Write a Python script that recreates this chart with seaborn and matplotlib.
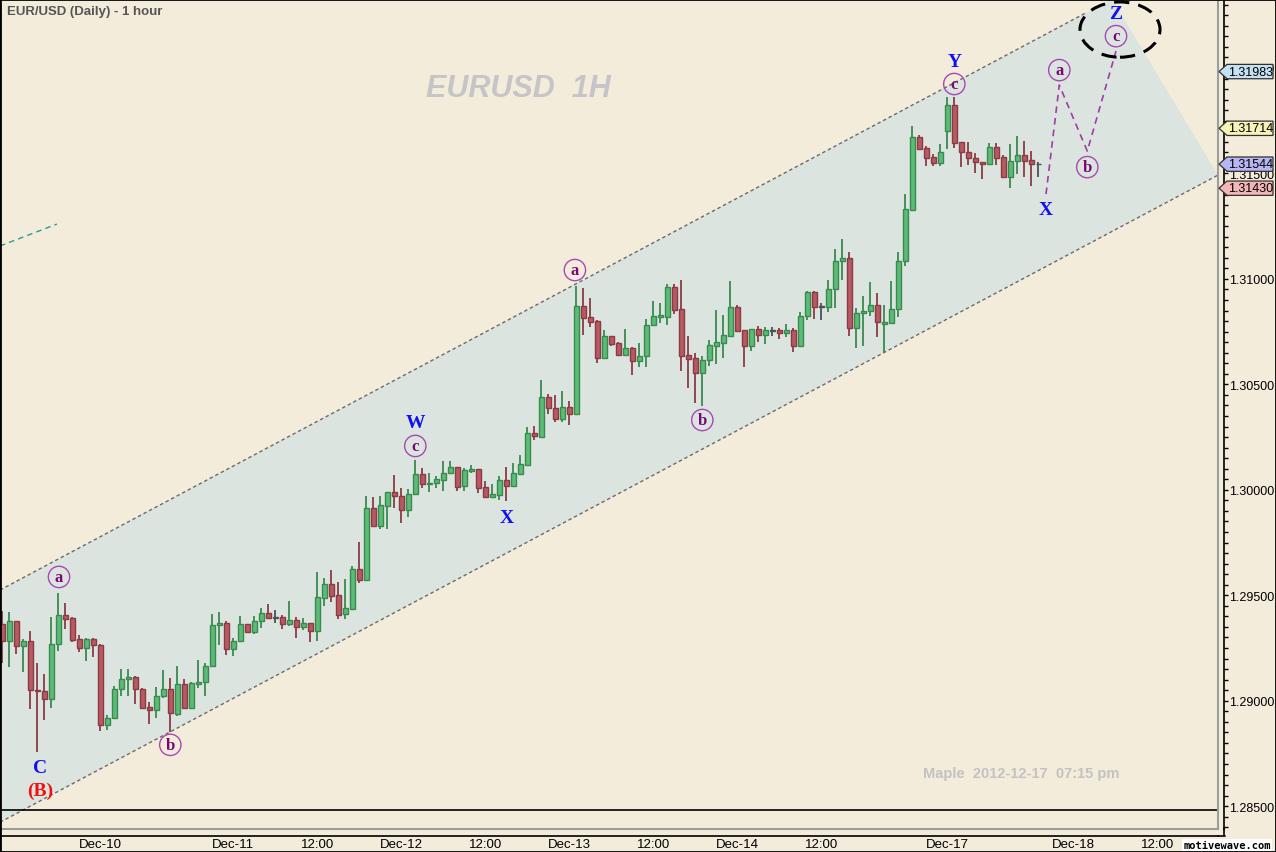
import numpy as np
import pandas as pd
import matplotlib
matplotlib.use("Agg")
import matplotlib.pyplot as plt
import seaborn as sns
from matplotlib.patches import Polygon, Ellipse, Rectangle
from matplotlib.lines import Line2D
from matplotlib.transforms import blended_transform_factory
from matplotlib.ticker import MultipleLocator, FixedLocator, FixedFormatter, FormatStrFormatter

# ---------------- data (EUR/USD 1-hour bars) ----------------
opens = [1.29364, 1.29282, 1.29377, 1.29258, 1.29284, 1.29050, 1.29045, 1.29007, 1.29268, 1.29407,
         1.29393, 1.29292, 1.29252, 1.29292, 1.29265, 1.28887, 1.28917, 1.29055, 1.29103, 1.29111,
         1.29056, 1.28971, 1.28958, 1.29021, 1.29056, 1.28939, 1.29078, 1.28967, 1.29080, 1.29088,
         1.29165, 1.29358, 1.29369, 1.29247, 1.29282, 1.29364, 1.29328, 1.29377, 1.29416, 1.29393,
         1.29396, 1.29363, 1.29382, 1.29351, 1.29367, 1.29332, 1.29489, 1.29552, 1.29502, 1.29410,
         1.29437, 1.29623, 1.29574, 1.29913, 1.29830, 1.29925, 1.29988, 1.29969, 1.29906, 1.29979,
         1.30074, 1.30026, 1.30031, 1.30048, 1.30078, 1.30108, 1.30017, 1.30091, 1.30099, 1.30013,
         1.29965, 1.29977, 1.30047, 1.30020, 1.30075, 1.30119, 1.30269, 1.30252, 1.30440, 1.30388,
         1.30334, 1.30393, 1.30361, 1.30871, 1.30819, 1.30800, 1.30626, 1.30728, 1.30696, 1.30641,
         1.30672, 1.30609, 1.30634, 1.30781, 1.30821, 1.30821, 1.30960, 1.30856, 1.30638, 1.30625,
         1.30555, 1.30614, 1.30683, 1.30697, 1.30731, 1.30867, 1.30758, 1.30683, 1.30762, 1.30735,
         1.30753, 1.30756, 1.30742, 1.30756, 1.30680, 1.30823, 1.30938, 1.30868, 1.30868, 1.30951,
         1.31083, 1.31098, 1.30766, 1.30837, 1.30846, 1.30875, 1.30788, 1.30791, 1.30856, 1.31083,
         1.31328, 1.31672, 1.31620, 1.31578, 1.31548, 1.31700, 1.31824, 1.31647, 1.31601, 1.31573,
         1.31553, 1.31543, 1.31624, 1.31578, 1.31484, 1.31557, 1.31586, 1.31563, 1.31544]
highs = [1.29424, 1.29420, 1.29380, 1.29292, 1.29331, 1.29179, 1.29126, 1.29397, 1.29511, 1.29464,
         1.29395, 1.29312, 1.29296, 1.29299, 1.29268, 1.28933, 1.29069, 1.29151, 1.29151, 1.29119,
         1.29061, 1.28996, 1.29067, 1.29146, 1.29108, 1.29164, 1.29103, 1.29088, 1.29193, 1.29181,
         1.29412, 1.29421, 1.29378, 1.29298, 1.29402, 1.29366, 1.29402, 1.29439, 1.29459, 1.29430,
         1.29407, 1.29473, 1.29397, 1.29394, 1.29369, 1.29609, 1.29582, 1.29619, 1.29562, 1.29577,
         1.29639, 1.29753, 1.29969, 1.29965, 1.29969, 1.29990, 1.30070, 1.30007, 1.30003, 1.30140,
         1.30104, 1.30078, 1.30064, 1.30135, 1.30137, 1.30110, 1.30104, 1.30118, 1.30101, 1.30042,
         1.30026, 1.30067, 1.30107, 1.30127, 1.30165, 1.30296, 1.30304, 1.30521, 1.30454, 1.30450,
         1.30469, 1.30421, 1.30968, 1.30957, 1.30909, 1.30806, 1.30759, 1.30730, 1.30699, 1.30761,
         1.30675, 1.30696, 1.30811, 1.30897, 1.30886, 1.30976, 1.30976, 1.30995, 1.30731, 1.30647,
         1.30633, 1.30710, 1.30852, 1.30829, 1.30990, 1.30876, 1.30760, 1.30764, 1.30777, 1.30772,
         1.30770, 1.30768, 1.30786, 1.30766, 1.30842, 1.30944, 1.30944, 1.30886, 1.30995, 1.31142,
         1.31189, 1.31126, 1.30862, 1.30919, 1.30985, 1.30933, 1.30876, 1.30990, 1.31127, 1.31402,
         1.31723, 1.31682, 1.31628, 1.31592, 1.31639, 1.31862, 1.31862, 1.31649, 1.31649, 1.31595,
         1.31555, 1.31644, 1.31644, 1.31586, 1.31639, 1.31677, 1.31654, 1.31606, 1.31553]
lows = [1.29178, 1.29162, 1.29223, 1.29138, 1.28963, 1.28756, 1.28910, 1.28967, 1.29238, 1.29340,
        1.29279, 1.29233, 1.29190, 1.29209, 1.28858, 1.28863, 1.28915, 1.29024, 1.29024, 1.28986,
        1.28965, 1.28892, 1.28917, 1.29012, 1.28851, 1.28929, 1.28965, 1.28963, 1.29059, 1.29024,
        1.29163, 1.29265, 1.29219, 1.29214, 1.29282, 1.29323, 1.29318, 1.29347, 1.29392, 1.29370,
        1.29342, 1.29356, 1.29299, 1.29334, 1.29280, 1.29285, 1.29451, 1.29470, 1.29388, 1.29388,
        1.29434, 1.29560, 1.29572, 1.29828, 1.29816, 1.29813, 1.29915, 1.29841, 1.29870, 1.29977,
        1.30007, 1.29991, 1.30010, 1.29996, 1.30076, 1.29996, 1.29996, 1.30081, 1.29986, 1.29963,
        1.29963, 1.29953, 1.29946, 1.30018, 1.30073, 1.30114, 1.30238, 1.30246, 1.30360, 1.30320,
        1.30320, 1.30309, 1.30358, 1.30734, 1.30770, 1.30603, 1.30624, 1.30680, 1.30639, 1.30639,
        1.30546, 1.30584, 1.30584, 1.30779, 1.30789, 1.30783, 1.30835, 1.30562, 1.30484, 1.30412,
        1.30399, 1.30586, 1.30597, 1.30625, 1.30729, 1.30750, 1.30584, 1.30660, 1.30702, 1.30693,
        1.30731, 1.30716, 1.30726, 1.30655, 1.30678, 1.30806, 1.30810, 1.30806, 1.30842, 1.30863,
        1.30996, 1.30731, 1.30671, 1.30683, 1.30823, 1.30726, 1.30652, 1.30788, 1.30821, 1.31062,
        1.31323, 1.31611, 1.31536, 1.31536, 1.31534, 1.31616, 1.31620, 1.31532, 1.31541, 1.31503,
        1.31472, 1.31541, 1.31541, 1.31481, 1.31429, 1.31497, 1.31484, 1.31442, 1.31484]
closes = [1.29282, 1.29377, 1.29258, 1.29284, 1.29050, 1.29045, 1.29007, 1.29269, 1.29407, 1.29389,
          1.29290, 1.29252, 1.29292, 1.29265, 1.28887, 1.28917, 1.29056, 1.29103, 1.29111, 1.29055,
          1.28967, 1.28958, 1.29021, 1.29056, 1.28941, 1.29078, 1.28967, 1.29083, 1.29088, 1.29165,
          1.29359, 1.29369, 1.29247, 1.29284, 1.29364, 1.29328, 1.29378, 1.29416, 1.29394, 1.29393,
          1.29363, 1.29382, 1.29351, 1.29367, 1.29332, 1.29491, 1.29552, 1.29498, 1.29408, 1.29439,
          1.29623, 1.29574, 1.29913, 1.29830, 1.29927, 1.29988, 1.29969, 1.29906, 1.29979, 1.30074,
          1.30028, 1.30032, 1.30050, 1.30080, 1.30108, 1.30015, 1.30094, 1.30099, 1.30010, 1.29965,
          1.29980, 1.30047, 1.30020, 1.30080, 1.30122, 1.30269, 1.30254, 1.30440, 1.30387, 1.30334,
          1.30393, 1.30361, 1.30871, 1.30816, 1.30797, 1.30626, 1.30728, 1.30693, 1.30641, 1.30672,
          1.30609, 1.30634, 1.30781, 1.30825, 1.30829, 1.30960, 1.30854, 1.30636, 1.30622, 1.30555,
          1.30615, 1.30685, 1.30699, 1.30733, 1.30867, 1.30754, 1.30683, 1.30762, 1.30735, 1.30756,
          1.30753, 1.30742, 1.30756, 1.30680, 1.30823, 1.30938, 1.30868, 1.30868, 1.30951, 1.31083,
          1.31098, 1.30766, 1.30837, 1.30846, 1.30875, 1.30794, 1.30794, 1.30857, 1.31085, 1.31330,
          1.31672, 1.31616, 1.31574, 1.31548, 1.31601, 1.31824, 1.31645, 1.31600, 1.31572, 1.31553,
          1.31543, 1.31624, 1.31574, 1.31484, 1.31557, 1.31586, 1.31560, 1.31543, 1.31544]

# x axis (bar index) tick positions and labels
time_tick_pos = [14, 33, 45, 57, 69, 81, 93, 105, 117, 135, 153, 165]
time_tick_labels = ["Dec-10", "Dec-11", "12:00", "Dec-12", "12:00", "Dec-13", "12:00",
                    "Dec-14", "12:00", "Dec-17", "Dec-18", "12:00"]

# channel (bar index, price)
chan_upper_x = [-0.33, 154.67]
chan_upper_y = [1.29525, 1.32259]
chan_lower_x = [-0.33, 173.67]
chan_lower_y = [1.28424, 1.31492]
chan_fill_x = [-0.33, 158.53, 173.67, -0.33]
chan_fill_y = [1.29525, 1.32327, 1.31492, 1.28424]

# teal trend segment top-left
teal_x = [-0.33, 7.8]
teal_y = [1.31156, 1.31260]

# projected wave path X -> a -> b -> c
proj_x = [149.1, 151.0, 155.0, 159.1]
proj_y = [1.31402, 1.31919, 1.31606, 1.32080]

# wave labels: (text, bar index, price, kind)
wave_labels = [
    ("C", 5.4, 1.28682, "blue"), ("(B)", 5.4, 1.28573, "red"),
    ("a", 8.1, 1.29587, "circ"), ("b", 24.0, 1.28791, "circ"),
    ("W", 59.0, 1.30317, "blue"), ("c", 59.0, 1.30208, "circ"),
    ("X", 72.0, 1.29871, "blue"), ("a", 81.8, 1.31042, "circ"),
    ("b", 100.0, 1.30331, "circ"),
    ("Y", 136.1, 1.32033, "blue"), ("c", 136.0, 1.31924, "circ"),
    ("X", 149.1, 1.31331, "blue"), ("a", 151.0, 1.31990, "circ"),
    ("b", 155.0, 1.31530, "circ"), ("Z", 159.1, 1.32256, "blue"),
    ("c", 159.1, 1.32151, "circ"),
]

# price tags on the right axis
tag_prices = [1.31983, 1.31714, 1.31544, 1.31430]
tag_colors = ["#C4E2F2", "#F6F3B6", "#B6B6F2", "#F2B6BA"]

base_line = 1.28481

# ---------------- style ----------------
BEIGE = "#F4ECDB"
CHAN = "#DCE4DF"
sns.set_style("white", rc={"axes.facecolor": BEIGE, "figure.facecolor": BEIGE})
plt.rcParams["font.family"] = ["Liberation Sans", "DejaVu Sans"]

W, H = 1276, 853
fig = plt.figure(figsize=(12.76, 8.53), dpi=100)
fig.patch.set_facecolor(BEIGE)
ax = fig.add_axes([0, 23 / H, 1218 / W, 830 / H])
ax.set_facecolor(BEIGE)

df = pd.DataFrame({"o": opens, "h": highs, "l": lows, "c": closes})
df["i"] = np.arange(len(df))

# channel
ax.add_patch(Polygon(list(zip(chan_fill_x, chan_fill_y)), closed=True, fc=CHAN, ec="none", zorder=0.5))
ax.plot(chan_upper_x, chan_upper_y, color="#6A6A6A", lw=1.0, dashes=(2.5, 2), zorder=1)
ax.plot(chan_lower_x, chan_lower_y, color="#6A6A6A", lw=1.0, dashes=(2.5, 2), zorder=1)
ax.plot(teal_x, teal_y, color="#2A9A98", lw=1.0, dashes=(4, 3), zorder=1)
ax.axhline(base_line, color="black", lw=1.2, zorder=1)

# candles
up_fill, up_edge = "#5CBB76", "#3A8A50"
dn_fill, dn_edge = "#B85A62", "#8A3B43"
gray = "#4A525A"
fills, edges = [], []
for o, c in zip(df.o, df.c):
    if c > o:
        fills.append(up_fill); edges.append(up_edge)
    elif c < o:
        fills.append(dn_fill); edges.append(dn_edge)
    else:
        fills.append(gray); edges.append(gray)
ax.vlines(df.i, df.l, df.h, colors=edges, lw=1.3, zorder=2)
body_bottom = np.minimum(df.o, df.c)
body_h = np.maximum(np.abs(df.c - df.o), 0.00003)
ax.bar(df.i, body_h, bottom=body_bottom, width=0.7, color=fills, edgecolor=edges, lw=1.0, zorder=3)

# projected path (seaborn)
sns.lineplot(x=proj_x, y=proj_y, ax=ax, color="#A03CA8", lw=1.2, sort=False, estimator=None, zorder=4)
ax.lines[-1].set_dashes((4, 3))

# ellipse
ax.add_patch(Ellipse((159.67, 1.32182), 11.43, 0.00262, fill=False, ec="black", lw=2.2,
                     linestyle=(0, (5, 3)), zorder=5))

# wave labels
for txt, x, y, kind in wave_labels:
    if kind == "circ":
        ax.text(x, y, txt, ha="center", va="center", fontsize=12, fontweight="bold",
                family="Liberation Serif", color="#780A78", zorder=6,
                bbox=dict(boxstyle="circle,pad=0.16", fc="none", ec="#A848B4", lw=1.0))
    else:
        ax.text(x, y, txt, ha="center", va="center", fontsize=14, fontweight="bold",
                family="Liberation Serif", color="#1010F0" if kind == "blue" else "#F01010", zorder=6)

# limits
ax.set_xlim(-0.3286, 173.671)
ax.set_ylim(1.28392, 1.32327)

# axes: spines and ticks
for s in ["left", "top"]:
    ax.spines[s].set_visible(False)
ax.spines["right"].set_position(("outward", 4.3))
ax.spines["bottom"].set_position(("outward", 4.8))
for s in ["right", "bottom"]:
    ax.spines[s].set_color("black")
    ax.spines[s].set_linewidth(1.2)
ax.yaxis.tick_right()
ax.yaxis.set_major_locator(MultipleLocator(0.005))
ax.yaxis.set_minor_locator(MultipleLocator(0.0005))
ax.yaxis.set_major_formatter(FormatStrFormatter("%.5f"))
ax.tick_params(axis="y", which="major", direction="out", length=3.0, width=1, pad=1.0,
               labelsize=9, colors="black")
ax.tick_params(axis="y", which="minor", direction="out", length=2.6, width=1, colors="black")
ax.xaxis.set_major_locator(FixedLocator(time_tick_pos))
ax.xaxis.set_major_formatter(FixedFormatter(time_tick_labels))
ax.tick_params(axis="x", which="major", direction="in", length=4.8, width=1, pad=2,
               labelsize=9.5, colors="black")
ax.grid(False)

# gray plot border
ax.add_patch(Rectangle((0, 0), 1, 1, transform=ax.transAxes, fill=False, ec="#9C9C9C",
                       lw=1.5, clip_on=False, zorder=7))
# corner completion of the black axis lines
fig.add_artist(Line2D([1218 / W, 1225 / W], [1 - 836.7 / H, 1 - 836.7 / H], color="black", lw=1.2))
fig.add_artist(Line2D([1224 / W, 1224 / W], [1 - 837 / H, 1 - 829 / H], color="black", lw=1.2))

# price tags
tr = blended_transform_factory(ax.transAxes, ax.transData)
hh = 0.00034
for p, col in zip(tag_prices, tag_colors):
    x0, x1, x2 = 1219 / 1218, 1227 / 1218, 1273 / 1218
    poly = Polygon([(x0, p), (x1, p + hh), (x2, p + hh), (x2, p - hh), (x1, p - hh)], closed=True,
                   transform=tr, fc=col, ec="#303030", lw=0.9, clip_on=False, zorder=20)
    ax.add_patch(poly)
    ax.text(1228.5 / 1218, p, f"{p:.5f}", transform=tr, ha="left", va="center", fontsize=9,
            color="black", zorder=21, clip_on=False)

# texts
fig.text(7 / W, 1 - 12 / H, "EUR/USD (Daily) - 1 hour", ha="left", va="center", fontsize=9.5,
         fontweight="bold", color="#555555")
fig.text(518 / W, 1 - 89 / H, "EURUSD  1H", ha="center", va="center", fontsize=22,
         fontweight="bold", style="italic", color="#C5C5C8")
fig.text(1021 / W, 1 - 774 / H, "Maple  2012-12-17  07:15 pm", ha="center", va="center",
         fontsize=10.5, fontweight="bold", color="#C2C2C2")
fig.text(1271 / W, 1 - 846 / H, "motivewave.com", ha="right", va="center", fontsize=7.5,
         fontweight="bold", family="DejaVu Sans Mono", color="black",
         bbox=dict(boxstyle="square,pad=0.1", fc="white", ec="none"))

# outer border
fig.add_artist(Rectangle((0, 0), 1, 1, transform=fig.transFigure, fill=False, ec="black", lw=2))

fig.savefig("out.png", dpi=100, facecolor=BEIGE)
